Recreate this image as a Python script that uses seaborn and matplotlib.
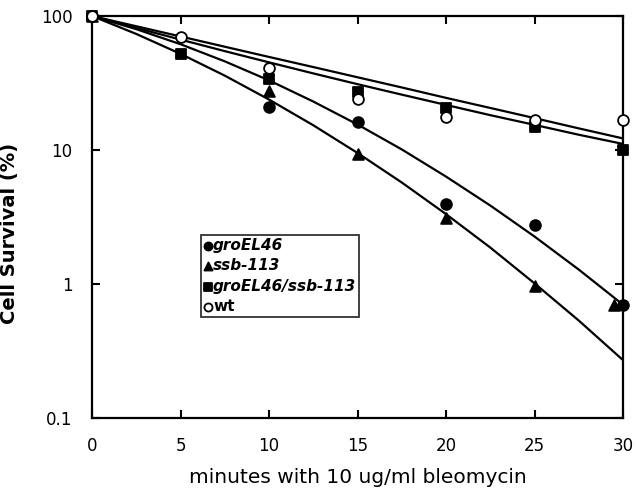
import numpy as np
import pandas as pd
import matplotlib
matplotlib.use("Agg")
import matplotlib.pyplot as plt
import seaborn as sns
from matplotlib.ticker import FixedLocator, FixedFormatter, NullLocator

t_groel = [0, 10, 15, 20, 25, 30]
s_groel = [100, 21, 16.2, 3.95, 2.75, 0.70]

t_ssb = [0, 10, 15, 20, 25, 29.5]
s_ssb = [100, 27.6, 9.3, 3.1, 0.97, 0.70]

t_double = [0, 5, 10, 15, 20, 25, 30]
s_double = [100, 52, 34, 27, 20.5, 14.9, 10]

t_wt = [0, 5, 10, 15, 20, 25, 30]
s_wt = [100, 70, 41, 24, 17.6, 16.7, 16.7]

# fitted curves, every 2.5 min
t_fit = [0, 2.5, 5, 7.5, 10, 12.5, 15, 17.5, 20, 22.5, 25, 27.5, 30]
fit_groel = [100, 79.8, 61.6, 45.9, 33.1, 23.0, 15.5, 10.1, 6.33, 3.85, 2.26, 1.28, 0.70]
fit_ssb = [100, 73.5, 52.2, 35.9, 23.8, 15.3, 9.5, 5.72, 3.32, 1.87, 1.01, 0.533, 0.27]
fit_double = [100, 81.5, 66.7, 54.7, 45.1, 37.3, 31.0, 25.9, 21.7, 18.2, 15.4, 13.0, 11.1]
fit_wt = [100, 83.9, 70.4, 59.0, 49.5, 41.6, 34.9, 29.3, 24.5, 20.6, 17.3, 14.5, 12.2]

sns.set_style("ticks")
plt.rcParams['font.family'] = ['DejaVu Sans']
plt.rcParams['text.color'] = 'black'
plt.rcParams['axes.labelcolor'] = 'black'
plt.rcParams['xtick.color'] = 'black'
plt.rcParams['ytick.color'] = 'black'
plt.rcParams['axes.edgecolor'] = 'black'

fig = plt.figure(figsize=(6.36, 5.01), dpi=100)
ax = fig.add_axes([0.1447, 0.1657, 0.835, 0.8023])

n = len(t_fit)
fits = pd.DataFrame({
    'min': t_fit * 4,
    'surv': fit_groel + fit_ssb + fit_double + fit_wt,
    'curve': ['groel'] * n + ['ssb'] * n + ['double'] * n + ['wt'] * n,
})
sns.lineplot(data=fits, x='min', y='surv', units='curve', estimator=None,
             color='black', linewidth=1.6, legend=False, ax=ax)

pts = [
    ('groEL46', t_groel, s_groel, 'o', 'black'),
    ('ssb-113', t_ssb, s_ssb, '^', 'black'),
    ('groEL46/ssb-113', t_double, s_double, 's', 'black'),
    ('wt', t_wt, s_wt, 'o', 'white'),
]
handles = []
for name, tx, sy, mk, fc in pts:
    df = pd.DataFrame({'min': tx, 'surv': sy})
    sns.scatterplot(data=df, x='min', y='surv', marker=mk, s=60,
                    facecolor=fc, edgecolor='black', linewidth=1.3,
                    ax=ax, label=name, zorder=5, clip_on=False)
    handles.append(ax.collections[-1])

ax.set_yscale('log')
ax.set_xlim(0, 30)
ax.set_ylim(0.1, 100)
ax.set_xticks([0, 5, 10, 15, 20, 25, 30])
ax.set_xticklabels(['0', '5', '10', '15', '20', '25', '30'])
ax.yaxis.set_major_locator(FixedLocator([0.1, 1, 10, 100]))
ax.yaxis.set_major_formatter(FixedFormatter(['0.1', '1', '10', '100']))
ax.yaxis.set_minor_locator(NullLocator())

ax.tick_params(axis='both', which='major', direction='in', length=6, width=1.5,
               top=True, right=True, labelsize=12, pad=14)
for sp in ax.spines.values():
    sp.set_linewidth(1.6)
    sp.set_visible(True)

ax.set_xlabel('minutes with 10 ug/ml bleomycin', fontsize=14.5, fontweight='medium')
ax.xaxis.set_label_coords(0.5, -0.125)
ax.set_ylabel('Cell Survival (%)', fontsize=14, fontweight='bold')
ax.yaxis.set_label_coords(-0.138, 0.46)

leg = ax.legend(handles=handles, labels=[p[0] for p in pts],
                loc='upper left', bbox_to_anchor=(0.205, 0.455),
                frameon=True, fancybox=False, edgecolor='black',
                fontsize=11, handlelength=0.5, handletextpad=0.1,
                borderpad=0.2, labelspacing=0.35, borderaxespad=0,
                markerscale=0.75)
leg.get_frame().set_linewidth(1.3)
for i, txt in enumerate(leg.get_texts()):
    txt.set_fontweight('bold')
    if i < 3:
        txt.set_fontstyle('italic')

fig.savefig('out.png', dpi=100)
